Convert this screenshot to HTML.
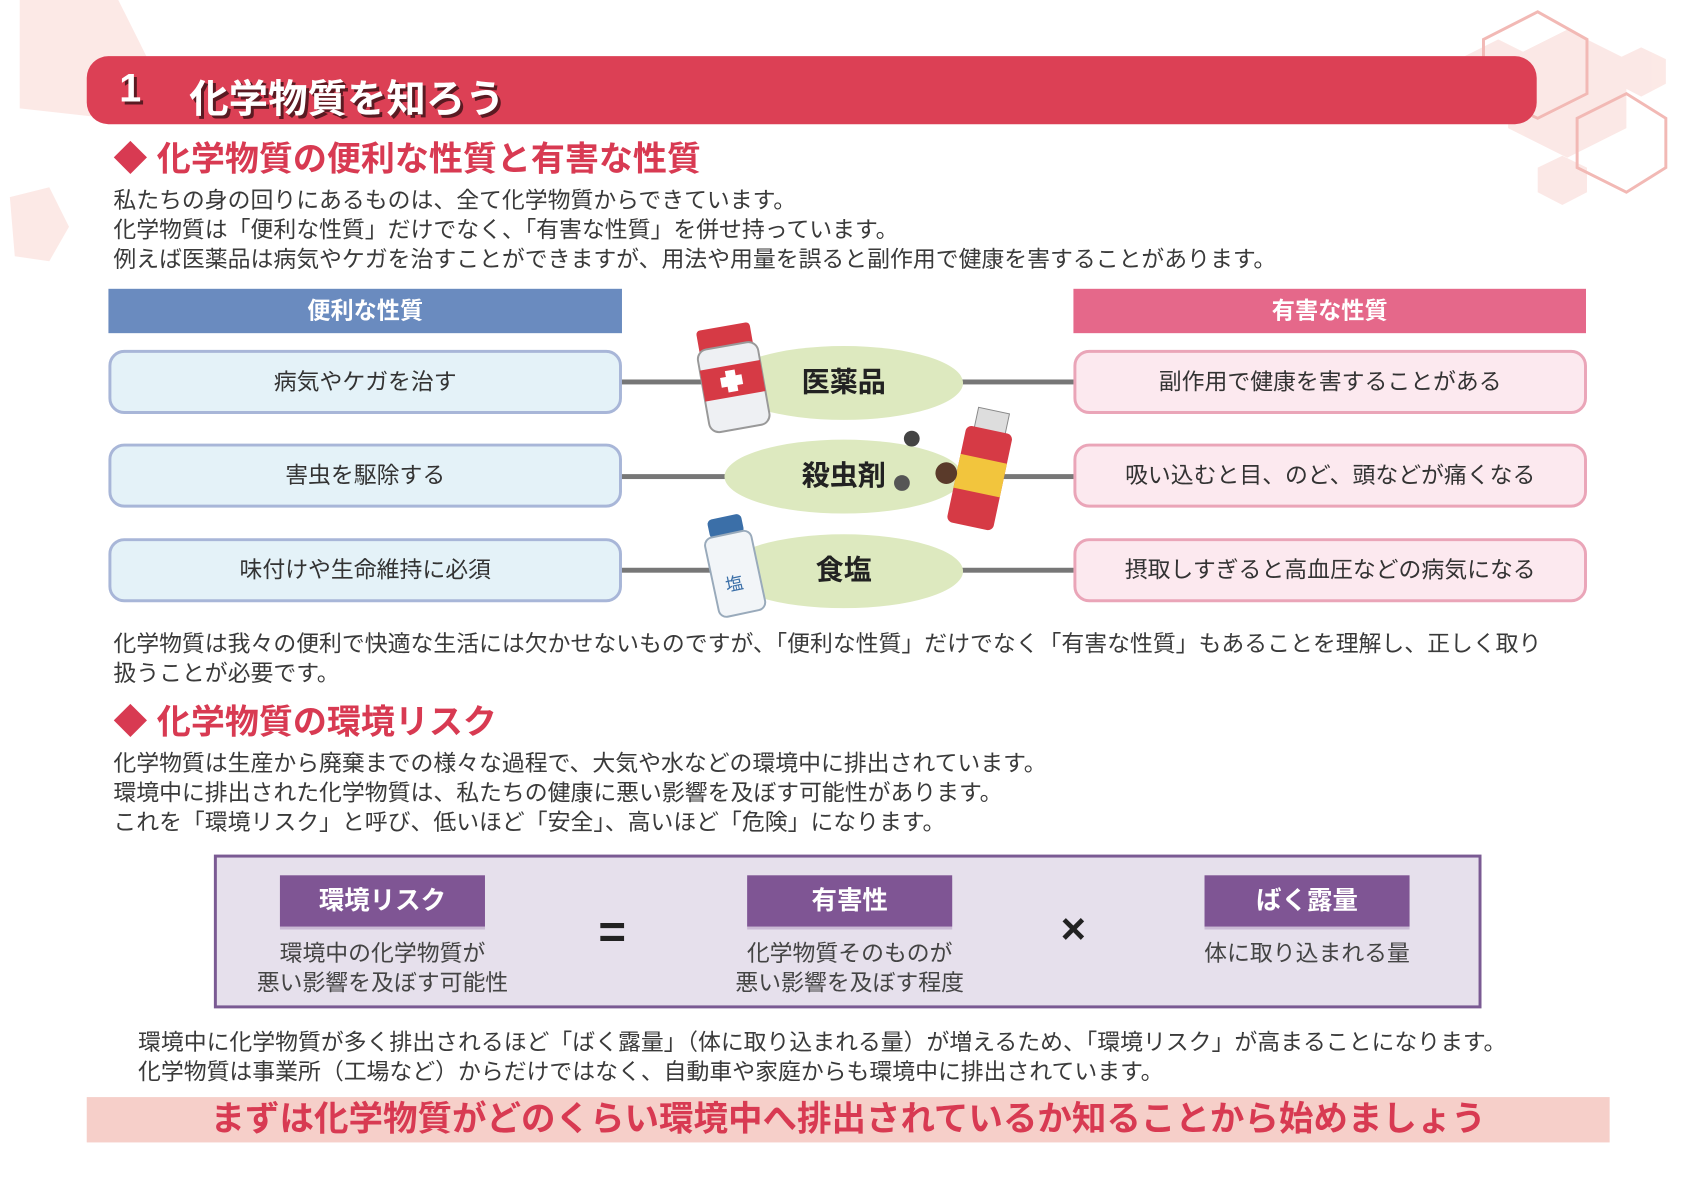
<!DOCTYPE html>
<html><head><meta charset="utf-8"><style>
*{margin:0;padding:0;box-sizing:border-box}
body{width:1697px;height:1200px;background:#fff;position:relative;overflow:hidden;font-family:"Liberation Sans","Noto Sans CJK JP",sans-serif;color:#333}
#w{position:absolute;left:0;top:0;width:1722px;height:1218px;transform:scale(0.9857);transform-origin:0 0}
.a{position:absolute;white-space:nowrap}
.p{font-size:23.2px;line-height:30.2px;color:#3a3a3a}
.h2{font-size:34.5px;font-weight:bold;color:#d83a52;line-height:40px}
.hd{position:absolute;height:45px;color:#fff;font-weight:bold;font-size:23.5px;text-align:center;line-height:45px}
.bx{position:absolute;width:521px;height:65px;border-radius:16px;border:3px solid;font-size:23.2px;text-align:center;line-height:59px;color:#333}
.l{background:#e4f2f8;border-color:#a8b6d8}
.r{background:#fce9ef;border-color:#eaa5b8}
.ln{position:absolute;height:5px;background:#777}
.el{position:absolute;width:242px;height:75px;border-radius:50%;background:#dde9bf;font-size:28.5px;font-weight:bold;text-align:center;line-height:75px;color:#222}
.pl{position:absolute;width:208px;height:52px;background:#7f5594;color:#fff;font-weight:bold;font-size:25.8px;text-align:center;line-height:52px;box-shadow:0 3px 0 #c9b9d4}
.st{position:absolute;font-size:23.2px;line-height:30px;text-align:center;color:#444}
</style></head><body><div id="w">
<svg class="a" style="left:0;top:0" width="1722" height="1218">
<g fill="#fbe3e0" opacity="0.8">
<polygon points="20,0 120,0 150,60 110,120 20,110"/>
<polygon points="10,200 50,190 70,230 50,265 15,260"/>
<polygon points="1480,60 1520,40 1560,60 1560,100 1520,120 1480,100"/>
<polygon points="1640,60 1665,48 1690,60 1690,85 1665,98 1640,85"/>
<polygon points="1560,170 1585,158 1610,170 1610,195 1585,208 1560,195"/>
<polygon points="1530,60 1590,30 1650,60 1650,130 1590,160 1530,130"/>
</g>
<g fill="none" stroke="#f2b9b5" stroke-width="3">
<polygon points="1505,40 1560,12 1610,40 1610,95 1560,120 1505,95"/>
<polygon points="1600,120 1650,95 1690,120 1690,170 1650,195 1600,170"/>
</g>
<rect x="88" y="57" width="1471" height="69" rx="22" fill="#dc4055"/>
</svg>
<div class="a" style="left:121px;top:68px;font-size:40px;font-weight:bold;color:#fff;text-shadow:3px 3px 0 #5a1a22">1</div>
<div class="a" style="left:192px;top:68px;font-size:40px;font-weight:bold;color:#fff;text-shadow:3px 3px 0 #5a1a22">化学物質を知ろう</div>
<div class="a h2" style="left:115px;top:142px">◆ 化学物質の便利な性質と有害な性質</div>
<div class="a p" style="left:115px;top:188px">私たちの身の回りにあるものは、全て化学物質からできています。<br>化学物質は「便利な性質」だけでなく、「有害な性質」を併せ持っています。<br>例えば医薬品は病気やケガを治すことができますが、用法や用量を誤ると副作用で健康を害することがあります。</div>
<div class="hd" style="left:110px;top:293px;width:521px;background:#6a8bbf">便利な性質</div>
<div class="hd" style="left:1089px;top:293px;width:520px;background:#e5688a">有害な性質</div>
<div class="ln" style="left:630px;top:385px;width:110px"></div><div class="ln" style="left:975px;top:385px;width:115px"></div>
<div class="ln" style="left:630px;top:481px;width:110px"></div><div class="ln" style="left:975px;top:481px;width:115px"></div>
<div class="ln" style="left:630px;top:576px;width:110px"></div><div class="ln" style="left:975px;top:576px;width:115px"></div>
<div class="bx l" style="left:110px;top:355px">病気やケガを治す</div>
<div class="bx l" style="left:110px;top:450px">害虫を駆除する</div>
<div class="bx l" style="left:110px;top:546px">味付けや生命維持に必須</div>
<div class="bx r" style="left:1089px;top:355px">副作用で健康を害することがある</div>
<div class="bx r" style="left:1089px;top:450px">吸い込むと目、のど、頭などが痛くなる</div>
<div class="bx r" style="left:1089px;top:546px">摂取しすぎると高血圧などの病気になる</div>
<div class="el" style="left:735px;top:351px">医薬品</div>
<div class="el" style="left:735px;top:446px">殺虫剤</div>
<div class="el" style="left:735px;top:542px">食塩</div>
<svg class="a" style="left:700px;top:315px" width="350" height="320">
<g transform="rotate(-10 45 70)"><rect x="15" y="15" width="55" height="25" rx="4" fill="#d63a45"/><rect x="12" y="35" width="62" height="85" rx="10" fill="#eef0f3" stroke="#999" stroke-width="2"/><rect x="12" y="55" width="62" height="32" fill="#d63a45"/><rect x="37" y="60" width="10" height="22" fill="#fff"/><rect x="31" y="66" width="22" height="10" fill="#fff"/></g>
<g transform="rotate(12 295 160)"><rect x="280" y="100" width="32" height="25" fill="#ddd" stroke="#888"/><rect x="272" y="120" width="48" height="100" rx="6" fill="#d63a45"/><rect x="272" y="150" width="48" height="35" fill="#f2c53d"/></g>
<circle cx="225" cy="130" r="8" fill="#444"/><circle cx="260" cy="165" r="11" fill="#5a3a2a"/><circle cx="215" cy="175" r="8" fill="#555"/>
<g transform="rotate(-12 35 250)"><rect x="25" y="210" width="35" height="20" rx="5" fill="#3b6fa8"/><rect x="18" y="228" width="48" height="82" rx="8" fill="#f2f5f8" stroke="#9ab" stroke-width="2"/><text x="30" y="285" font-size="18" fill="#3b6fa8">塩</text></g>
</svg>
<div class="a p" style="left:115px;top:638px">化学物質は我々の便利で快適な生活には欠かせないものですが、「便利な性質」だけでなく「有害な性質」もあることを理解し、正しく取り<br>扱うことが必要です。</div>
<div class="a h2" style="left:115px;top:713px">◆ 化学物質の環境リスク</div>
<div class="a p" style="left:115px;top:759px">化学物質は生産から廃棄までの様々な過程で、大気や水などの環境中に排出されています。<br>環境中に排出された化学物質は、私たちの健康に悪い影響を及ぼす可能性があります。<br>これを「環境リスク」と呼び、低いほど「安全」、高いほど「危険」になります。</div>
<div class="a" style="left:217px;top:867px;width:1286px;height:156px;background:#e6e0ec;border:3px solid #7a5a93"></div>
<div class="pl" style="left:284px;top:888px">環境リスク</div>
<div class="pl" style="left:758px;top:888px">有害性</div>
<div class="pl" style="left:1222px;top:888px">ばく露量</div>
<div class="st" style="left:238px;top:952px;width:300px">環境中の化学物質が<br>悪い影響を及ぼす可能性</div>
<div class="st" style="left:712px;top:952px;width:300px">化学物質そのものが<br>悪い影響を及ぼす程度</div>
<div class="st" style="left:1176px;top:952px;width:300px">体に取り込まれる量</div>
<div class="a" style="left:607px;top:918px;font-size:48px;font-weight:bold;color:#222">=</div>
<div class="a" style="left:1076px;top:918px;font-size:44px;font-weight:bold;color:#222">×</div>
<div class="a p" style="left:140px;top:1042px">環境中に化学物質が多く排出されるほど「ばく露量」（体に取り込まれる量）が増えるため、「環境リスク」が高まることになります。<br>化学物質は事業所（工場など）からだけではなく、自動車や家庭からも環境中に排出されています。</div>
<div class="a" style="left:88px;top:1113px;width:1545px;height:46px;background:#f6cfc9;text-align:center;font-size:35px;font-weight:bold;color:#d83a52;line-height:46px">まずは化学物質がどのくらい環境中へ排出されているか知ることから始めましょう</div>
</div></body></html>
